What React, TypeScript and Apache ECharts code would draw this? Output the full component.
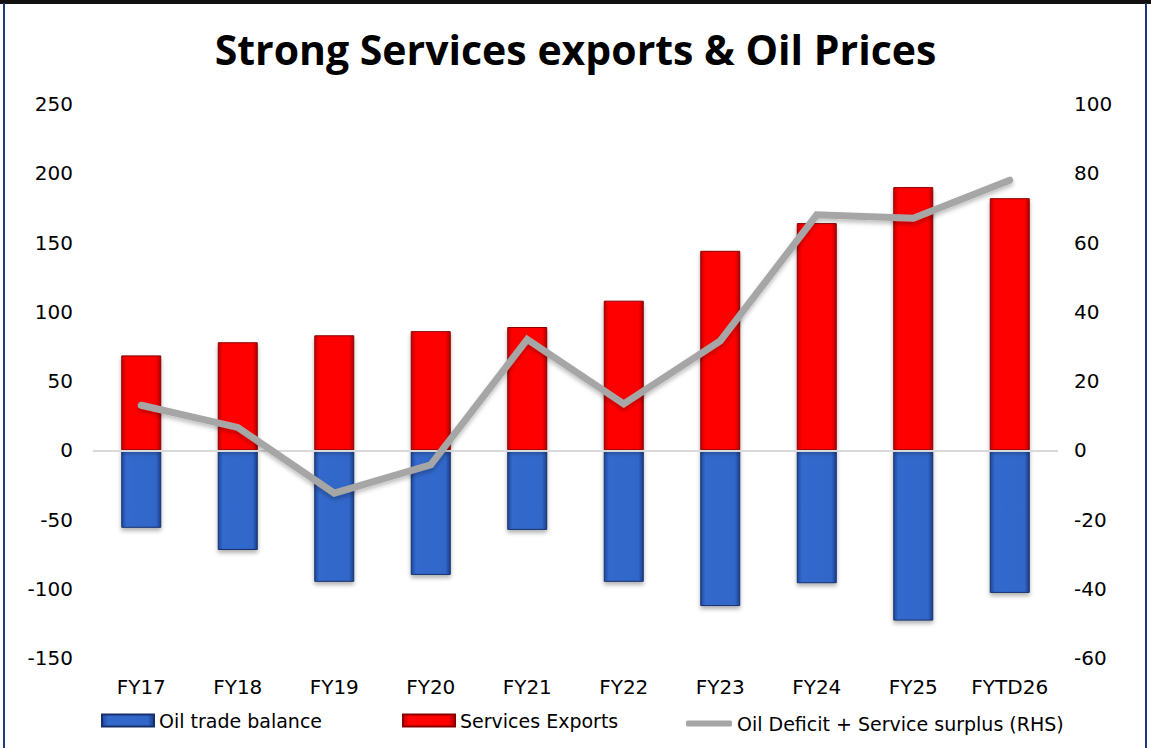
import React, { useEffect, useRef } from "react";
import * as echarts from "echarts";

const categories = ["FY17", "FY18", "FY19", "FY20", "FY21", "FY22", "FY23", "FY24", "FY25", "FYTD26"];
const oilTradeBalance = [-56, -72, -95, -90, -57.5, -95, -112.5, -96, -123, -103];
const servicesExports = [68.5, 78, 83, 86, 89, 108, 144, 164, 190, 182];
const netLine = [13, 6.6, -12.4, -4.2, 32, 13.4, 31.6, 68, 67, 78];

const FONT = "DejaVu Sans";

export default function App() {
  const ref = useRef<HTMLDivElement>(null);
  useEffect(() => {
    document.body.style.margin = "0";
    const chart = echarts.init(ref.current!, null, { renderer: "svg" });
    const blue = new echarts.graphic.LinearGradient(0, 0, 1, 0, [
      { offset: 0, color: "#1d4aa0" },
      { offset: 0.12, color: "#3469cc" },
      { offset: 0.88, color: "#3166c8" },
      { offset: 1, color: "#1a3f8c" },
    ]);
    const red = new echarts.graphic.LinearGradient(0, 0, 1, 0, [
      { offset: 0, color: "#c80000" },
      { offset: 0.12, color: "#ff0505" },
      { offset: 0.88, color: "#ff0000" },
      { offset: 1, color: "#b00000" },
    ]);
    const txt = { fontFamily: FONT, fontSize: 19, color: "#000" };
    chart.setOption({
      animation: false,
      backgroundColor: "#fff",
      title: {
        text: "Strong Services exports & Oil Prices",
        left: "center",
        top: 23,
        textStyle: { fontFamily: "Open Sans", fontWeight: "bold", fontSize: 41, color: "#000" },
      },
      graphic: [
        { type: "rect", shape: { x: 0, y: 0, width: 1151, height: 4 }, style: { fill: "#111" } },
        { type: "rect", shape: { x: 3, y: 3, width: 2, height: 745 }, style: { fill: "#1f3a7a" } },
        { type: "rect", shape: { x: 1145, y: 3, width: 2, height: 745 }, style: { fill: "#1f3a7a" } },
      ],
      grid: { left: 93, right: 93, top: 104, bottom: 90, containLabel: false },
      legend: [
        { data: [{ name: "Oil trade balance", icon: "rect" }], left: 96, top: 706, itemWidth: 52, itemHeight: 12, itemGap: 4, textStyle: txt },
        { data: [{ name: "Services Exports", icon: "rect" }], left: 397, top: 706, itemWidth: 52, itemHeight: 12, textStyle: txt },
        { data: [{ name: "Oil Deficit + Service surplus (RHS)", icon: "roundRect" }], left: 681, top: 709, itemWidth: 46, itemHeight: 6, textStyle: txt },
      ],
      xAxis: {
        type: "category",
        data: categories,
        axisLine: { show: false },
        axisTick: { show: false },
        axisLabel: { ...txt, fontSize: 20, margin: 19, interval: 0 },
      },
      yAxis: [
        {
          type: "value",
          min: -150,
          max: 250,
          interval: 50,
          splitLine: { show: false },
          axisLine: { show: false },
          axisTick: { show: false },
          axisLabel: { ...txt, fontSize: 20, margin: 20 },
        },
        {
          type: "value",
          min: -60,
          max: 100,
          interval: 20,
          splitLine: { show: false },
          axisLine: { show: false },
          axisTick: { show: false },
          axisLabel: { ...txt, fontSize: 20, margin: 16 },
        },
      ],
      series: [
        {
          name: "Oil trade balance",
          type: "bar",
          stack: "s",
          barWidth: 40,
          data: oilTradeBalance,
          itemStyle: {
            color: blue,
            borderColor: "#17306a",
            borderWidth: 1,
            shadowColor: "rgba(0,0,0,0.3)",
            shadowBlur: 4,
            shadowOffsetY: 3,
          },
          markLine: {
            silent: true,
            symbol: "none",
            label: { show: false },
            lineStyle: { color: "#d9d9d9", width: 2, type: "solid" },
            data: [{ yAxis: 0 }],
          },
        },
        {
          name: "Services Exports",
          type: "bar",
          stack: "s",
          barWidth: 40,
          data: servicesExports,
          itemStyle: {
            color: red,
            borderColor: "#8a0000",
            borderWidth: 1,
            shadowColor: "rgba(0,0,0,0.3)",
            shadowBlur: 4,
            shadowOffsetY: 3,
          },
        },
        {
          name: "Oil Deficit + Service surplus (RHS)",
          type: "line",
          yAxisIndex: 1,
          data: netLine,
          symbol: "none",
          z: 5,
          lineStyle: {
            color: "#a6a6a6",
            width: 7,
            cap: "round",
            join: "miter",
            shadowColor: "rgba(0,0,0,0.25)",
            shadowBlur: 4,
            shadowOffsetY: 3,
          },
          itemStyle: { color: "#a6a6a6" },
        },
      ],
    });
    return () => chart.dispose();
  }, []);
  return <div ref={ref} style={{ position: "fixed", left: 0, top: 0, width: 1151, height: 748 }} />;
}
